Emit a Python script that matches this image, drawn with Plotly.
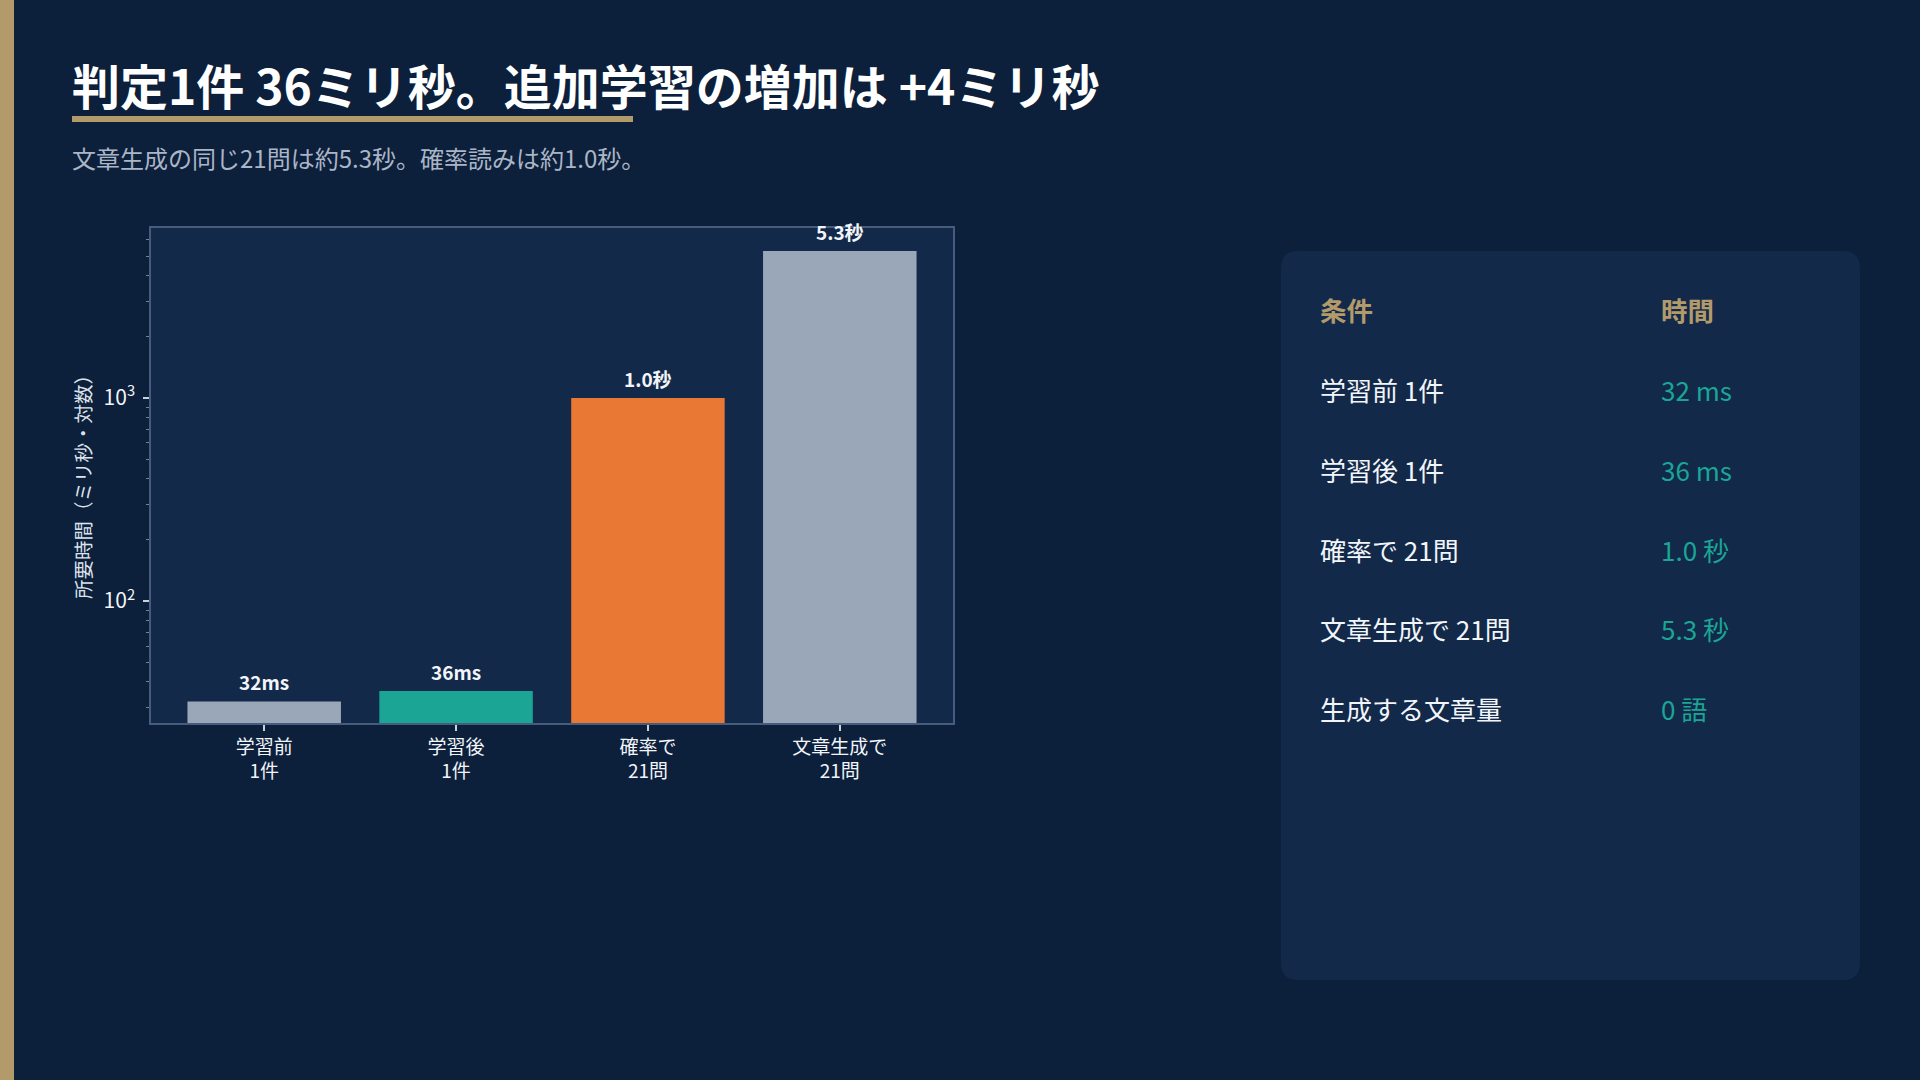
import math
import plotly.graph_objects as go

W, H = 1920, 1080

# ---------------- data ----------------
categories = ["学習前<br>1件", "学習後<br>1件", "確率で<br>21問", "文章生成で<br>21問"]
times_ms = [32, 36, 1000, 5300]
bar_labels = ["32ms", "36ms", "1.0秒", "5.3秒"]

ytick_vals = [100, 1000]
ytick_text = ["10<sup>2</sup>", "10<sup>3</sup>"]

table_header = ["条件", "時間"]
table_conditions = ["学習前 1件", "学習後 1件", "確率で 21問", "文章生成で 21問", "生成する文章量"]
table_values = ["32 ms", "36 ms", "1.0 秒", "5.3 秒", "0 語"]

title_text = "判定1件 36ミリ秒。追加学習の増加は +4ミリ秒"
subtitle_text = "文章生成の同じ21問は約5.3秒。確率読みは約1.0秒。"
y_title_text = "所要時間（ミリ秒・対数）"

# ---------------- style ----------------
FONT = "Noto Sans CJK JP"
BG = "#0c1f3b"
PLOT_BG = "#12294a"
PANEL_BG = "#12294a"
GOLD = "#b39a6a"
TEAL = "#1aa595"
ORANGE = "#e87833"
GRAY = "#9aa7b8"
TEXT = "#f2f5f9"
SUB = "#aab5c6"
SPINE = "#475c7d"
bar_colors = [GRAY, TEAL, ORANGE, GRAY]

plot_left, plot_right, plot_top, plot_bottom = 151, 953, 228, 723


def px(x):
    return x / W


def py(y):
    return 1 - y / H


minor_vals = [k * 10 ** e for e in (1, 2, 3) for k in range(2, 10)]

fig = go.Figure(
    go.Bar(
        x=categories,
        y=times_ms,
        width=0.8,
        marker=dict(color=bar_colors, line=dict(width=0)),
        hoverinfo="skip",
    )
)

fig.update_layout(
    width=W,
    height=H,
    paper_bgcolor=BG,
    plot_bgcolor=PLOT_BG,
    margin=dict(l=0, r=0, t=0, b=0),
    showlegend=False,
    font=dict(family=FONT, color=TEXT),
    xaxis=dict(
        domain=[px(plot_left), px(plot_right)],
        range=[-0.59, 3.59],
        showgrid=False,
        zeroline=False,
        showline=True,
        mirror=True,
        linecolor=SPINE,
        linewidth=1.5,
        ticks="outside",
        ticklen=6,
        tickwidth=1.5,
        tickcolor="#c9d1dd",
        tickfont=dict(family=FONT, size=19, color=TEXT),
        automargin=False,
    ),
    yaxis=dict(
        domain=[py(plot_bottom), py(plot_top)],
        type="log",
        range=[1.399, 3.837],
        showgrid=False,
        zeroline=False,
        showline=True,
        mirror=True,
        linecolor=SPINE,
        linewidth=1.5,
        ticks="outside",
        ticklen=6,
        tickwidth=1.5,
        tickcolor="#c9d1dd",
        tickmode="array",
        tickvals=ytick_vals,
        ticktext=ytick_text,
        ticklabelstandoff=4,
        tickfont=dict(family=FONT, size=21, color=TEXT),
        minor=dict(
            tickmode="array",
            tickvals=minor_vals,
            ticks="outside",
            ticklen=3,
            tickwidth=1,
            tickcolor="#6f819b",
            showgrid=False,
        ),
        automargin=False,
    ),
)

# bar value labels
for cat, v, lab in zip(categories, times_ms, bar_labels):
    fig.add_annotation(
        x=cat, y=math.log10(v), xref="x", yref="y",
        text=lab, showarrow=False, yanchor="bottom", yshift=4,
        font=dict(family=FONT, size=19, color=TEXT, weight=700),
    )

# y-axis title
fig.add_annotation(
    x=px(82), y=py(482), xref="paper", yref="paper",
    text=y_title_text, textangle=-90, showarrow=False,
    xanchor="center", yanchor="middle",
    font=dict(family=FONT, size=19.5, color="#dde3ec"),
)

# title and subtitle
fig.add_annotation(
    x=px(70), y=py(84), xref="paper", yref="paper",
    text=title_text, showarrow=False, xanchor="left", yanchor="middle",
    font=dict(family=FONT, size=48, color="#ffffff", weight=700),
)
fig.add_annotation(
    x=px(70), y=py(158), xref="paper", yref="paper",
    text=subtitle_text, showarrow=False, xanchor="left", yanchor="middle",
    font=dict(family=FONT, size=24, color=SUB),
)

shapes = []
# left gold stripe
shapes.append(dict(type="rect", xref="paper", yref="paper", x0=0, x1=px(14), y0=0, y1=1,
                   fillcolor=GOLD, line=dict(width=0), layer="below"))
# title underline
shapes.append(dict(type="rect", xref="paper", yref="paper", x0=px(72), x1=px(633), y0=py(122), y1=py(116),
                   fillcolor=GOLD, line=dict(width=0)))

# right panel with rounded corners
x0, x1, y0, y1, r = 1281, 1860, 251, 980, 17
pts = [
    ("M", (x0 + r, y0)), ("L", (x1 - r, y0)), ("Q", (x1, y0), (x1, y0 + r)),
    ("L", (x1, y1 - r)), ("Q", (x1, y1), (x1 - r, y1)),
    ("L", (x0 + r, y1)), ("Q", (x0, y1), (x0, y1 - r)),
    ("L", (x0, y0 + r)), ("Q", (x0, y0), (x0 + r, y0)),
]
path = ""
for item in pts:
    cmd = item[0]
    coords = " ".join(f"{px(a):.6f},{py(b):.6f}" for a, b in item[1:])
    path += f"{cmd} {coords} "
path += "Z"
shapes.append(dict(type="path", xref="paper", yref="paper", path=path,
                   fillcolor=PANEL_BG, line=dict(width=0), layer="below"))
fig.update_layout(shapes=shapes)

# panel table
col_x = [1318, 1659]
header_y = 310
row_y0, row_step = 389.5, 79.8
for cx, h in zip(col_x, table_header):
    fig.add_annotation(
        x=px(cx), y=py(header_y), xref="paper", yref="paper", text=h, showarrow=False,
        xanchor="left", yanchor="middle",
        font=dict(family=FONT, size=26.5, color=GOLD, weight=700),
    )
for i, (cond, val) in enumerate(zip(table_conditions, table_values)):
    yy = row_y0 + row_step * i
    fig.add_annotation(
        x=px(col_x[0]), y=py(yy), xref="paper", yref="paper", text=cond, showarrow=False,
        xanchor="left", yanchor="middle",
        font=dict(family=FONT, size=26, color=TEXT),
    )
    fig.add_annotation(
        x=px(col_x[1]), y=py(yy), xref="paper", yref="paper", text=val, showarrow=False,
        xanchor="left", yanchor="middle",
        font=dict(family=FONT, size=26, color=TEAL),
    )

fig.write_html(
    "out.html",
    config=dict(displayModeBar=False),
    post_script="document.body.style.margin='0';document.body.style.overflow='hidden';",
)
